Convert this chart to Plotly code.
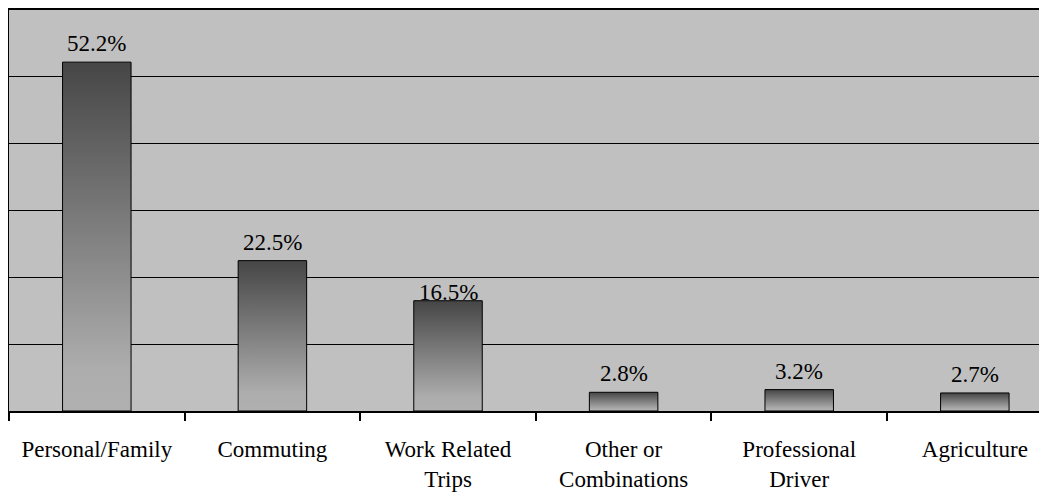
import plotly.graph_objects as go

categories = ["Personal/Family", "Commuting", "Work Related<br>Trips",
              "Other or<br>Combinations", "Professional<br>Driver", "Agriculture"]
values = [52.2, 22.5, 16.5, 2.8, 3.2, 2.7]
labels = ["52.2%", "22.5%", "16.5%", "2.8%", "3.2%", "2.7%"]

# styling (not data)
label_shift = [4, 4, -6, 4, 4, 4]
bar_w = 0.39
FONT = "Liberation Serif, Times New Roman, serif"

fig = go.Figure()
for i, v in enumerate(values):
    x0, x1 = i - bar_w / 2, i + bar_w / 2
    fig.add_trace(go.Scatter(
        x=[x0, x1, x1, x0, x0], y=[0, 0, v, v, 0],
        mode="lines", fill="toself",
        fillgradient=dict(type="vertical",
                          colorscale=[[0, "#b0b0b0"], [0.12, "#adadad"], [1, "#464646"]]),
        line=dict(color="black", width=1),
        hoverinfo="skip", showlegend=False, xaxis="x", yaxis="y"))
    fig.add_annotation(x=i, y=v, text=labels[i], showarrow=False,
                       yanchor="bottom", yshift=label_shift[i],
                       font=dict(family=FONT, size=23, color="black"))

# invisible trace for label axis
fig.add_trace(go.Scatter(x=list(range(len(categories))), y=[0] * len(categories),
                         mode="markers", marker=dict(opacity=0), hoverinfo="skip",
                         showlegend=False, xaxis="x2", yaxis="y"))

xr = [-0.5, 5.411]
fig.update_layout(
    width=1039, height=486,
    margin=dict(l=1, r=0, t=2, b=83, autoexpand=False),
    paper_bgcolor="white", plot_bgcolor="#c0c0c0",
    xaxis=dict(range=xr, tickvals=[i - 0.5 for i in range(len(categories))],
               showticklabels=False, ticks="outside", ticklen=8, tickwidth=2,
               tickcolor="black", showgrid=False, zeroline=False, automargin=False,
               showline=True, linecolor="black", linewidth=2, mirror=True),
    xaxis2=dict(range=xr, overlaying="x", anchor="y", side="bottom",
                tickvals=list(range(len(categories))), ticktext=categories,
                ticks="", showgrid=False, zeroline=False, showline=False,
                ticklabelstandoff=22, automargin=False,
                tickfont=dict(family=FONT, size=23, color="black")),
    yaxis=dict(range=[0, 60], dtick=10, showticklabels=False, ticks="",
               showgrid=True, gridcolor="black", gridwidth=1, zeroline=False,
               automargin=False,
               showline=True, linecolor="black", linewidth=2),
)

fig.write_html("out.html")
